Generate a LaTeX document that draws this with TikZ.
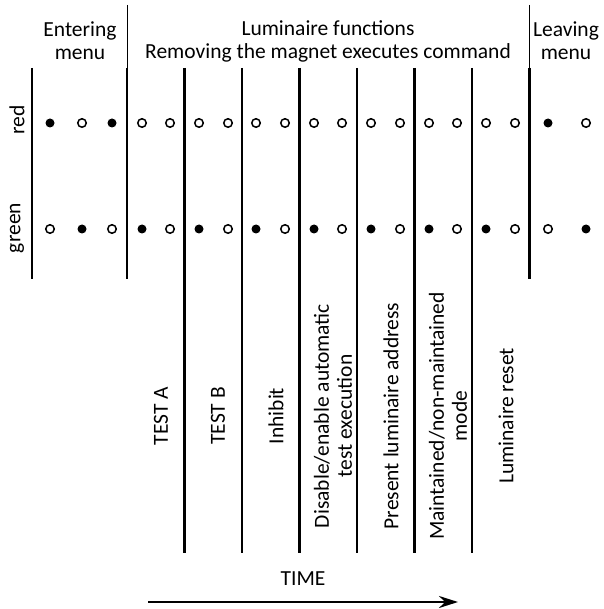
\documentclass[tikz,border=0pt]{standalone}
\usepackage{fontspec}
\setmainfont{Carlito}
\usepackage{tikz}
\usetikzlibrary{arrows.meta, positioning}

\begin{document}
\begin{tikzpicture}[
  x=1pt, y=-1pt,
  headtext/.style={align=center, inner sep=0pt, font=\fontsize{21.5}{23}\selectfont},
  coltext/.style={align=center, inner sep=0pt, rotate=90, font=\fontsize{21.5}{23}\selectfont},
  ledon/.style={circle, fill=black, inner sep=0pt, minimum size=9pt},
  ledoff/.style={circle, draw=black, line width=1.5pt, fill=white, inner sep=0pt, minimum size=8.5pt},
  divider/.style={line width=2.5pt, black},
  thindivider/.style={line width=1pt, black},
  arrow/.style={-{Stealth[length=19pt, width=12pt]}, line width=2.6pt, black}
]
\useasboundingbox (0,0) rectangle (603,609);

% Header
\node[headtext] (enterHead) at (80,41) {Entering\\menu};
\node[headtext] (funcHead) at (328,41) {Luminaire functions\\Removing the magnet executes command};
\node[headtext] (leaveHead) at (566,41) {Leaving\\menu};

\node[coltext] (redLabel) at (17,120) {red};
\node[coltext] (greenLabel) at (17,228) {green};

% Dividers
\draw[divider] (32,68) -- (32,279);
\draw[thindivider] (127,5) -- (127,68);
\draw[divider] (127,68) -- (127,279);
\draw[divider] (184.5,68) -- (184.5,553);
\draw[divider] (242,68) -- (242,553);
\draw[divider] (299.5,68) -- (299.5,553);
\draw[divider] (357,68) -- (357,553);
\draw[divider] (414.5,68) -- (414.5,553);
\draw[divider] (472,68) -- (472,553);
\draw[thindivider] (529.5,5) -- (529.5,68);
\draw[divider] (529.5,68) -- (529.5,279);

% Red LED row
\node[ledon] (r1) at (50,123) {};   \node[ledoff] (r2) at (82,123) {};   \node[ledon] (r3) at (112,123) {};
\node[ledoff] (r4) at (142,123) {};  \node[ledoff] (r5) at (170,123) {};
\node[ledoff] (r6) at (199,123) {};  \node[ledoff] (r7) at (228,123) {};
\node[ledoff] (r8) at (256,123) {};  \node[ledoff] (r9) at (285,123) {};
\node[ledoff] (r10) at (314,123) {}; \node[ledoff] (r11) at (342,123) {};
\node[ledoff] (r12) at (371,123) {}; \node[ledoff] (r13) at (400,123) {};
\node[ledoff] (r14) at (429,123) {}; \node[ledoff] (r15) at (457,123) {};
\node[ledoff] (r16) at (486,123) {}; \node[ledoff] (r17) at (515,123) {};
\node[ledon] (r18) at (548,123) {};  \node[ledoff] (r19) at (586,123) {};

% Green LED row
\node[ledoff] (g1) at (50,229) {};   \node[ledon] (g2) at (82,229) {};    \node[ledoff] (g3) at (112,229) {};
\node[ledon] (g4) at (142,229) {};   \node[ledoff] (g5) at (170,229) {};
\node[ledon] (g6) at (199,229) {};   \node[ledoff] (g7) at (228,229) {};
\node[ledon] (g8) at (256,229) {};   \node[ledoff] (g9) at (285,229) {};
\node[ledon] (g10) at (314,229) {};  \node[ledoff] (g11) at (342,229) {};
\node[ledon] (g12) at (371,229) {};  \node[ledoff] (g13) at (400,229) {};
\node[ledon] (g14) at (429,229) {};  \node[ledoff] (g15) at (457,229) {};
\node[ledon] (g16) at (486,229) {};  \node[ledoff] (g17) at (515,229) {};
\node[ledoff] (g18) at (548,229) {}; \node[ledon] (g19) at (586,229) {};

% Function labels
\node[coltext] (testA) at (161,416) {TEST A};
\node[coltext] (testB) at (218,416) {TEST B};
\node[coltext] (inhibit) at (276,416) {Inhibit};
\node[coltext] (autoTest) at (333,416) {Disable/enable automatic\\test execution};
\node[coltext] (address) at (391,416) {Present luminaire address};
\node[coltext] (mode) at (448,416) {Maintained/non-maintained\\mode};
\node[coltext] (reset) at (506,416) {Luminaire reset};

% Time axis
\node[headtext] (timeLabel) at (303,579) {TIME};
\coordinate (timeStart) at (148,602);
\coordinate (timeEnd) at (458,602);
\draw[arrow] (timeStart) -- (timeEnd);

\end{tikzpicture}
\end{document}
